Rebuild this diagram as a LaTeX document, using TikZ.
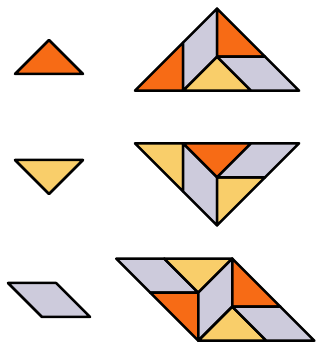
\documentclass[tikz,border=0pt]{standalone}
\usepackage{tikz}
\definecolor{tanOrange}{HTML}{F76B15}
\definecolor{tanYellow}{HTML}{F9CE6A}
\definecolor{tanLilac}{HTML}{CDCBDC}
\newcommand{\rt}{1.41421}

\begin{document}
\begin{tikzpicture}[x=1pt,y=1pt,
  piece/.style={draw=black,line width=2.5pt,line join=round},
  org/.style={piece,fill=tanOrange},
  yel/.style={piece,fill=tanYellow},
  lav/.style={piece,fill=tanLilac}]
\useasboundingbox (0,0) rectangle (320,344);
\begin{scope}[shift={(15,270)},scale=34]
\draw[org] (0,0) -- (2,0) -- (1,1) -- cycle;
\end{scope}
\begin{scope}[shift={(15,184)},scale=34]
\draw[yel] (0,0) -- (2,0) -- (1,-1) -- cycle;
\end{scope}
\begin{scope}[shift={(42,27)},scale=34]
\draw[lav] (0,0) -- (\rt,0) -- (\rt-1,1) -- (-1,1) -- cycle;
\end{scope}
\begin{scope}[shift={(135,253.3)},scale=34]
\draw[org] (0,0) -- (\rt,0) -- (\rt,\rt) -- cycle;
\draw[lav] (\rt,0) -- (\rt,\rt) -- (1+\rt,1+\rt) -- (1+\rt,1) -- cycle;
\draw[yel] (\rt,0) -- (2+\rt,0) -- (1+\rt,1) -- cycle;
\draw[org] (1+\rt,1+\rt) -- (1+\rt,1) -- (1+2*\rt,1) -- cycle;
\draw[lav] (1+\rt,1) -- (1+2*\rt,1) -- (2+2*\rt,0) -- (2+\rt,0) -- cycle;
\end{scope}
\begin{scope}[shift={(135,200.7)},scale=34,yscale=-1]
\draw[yel] (0,0) -- (\rt,0) -- (\rt,\rt) -- cycle;
\draw[lav] (\rt,0) -- (\rt,\rt) -- (1+\rt,1+\rt) -- (1+\rt,1) -- cycle;
\draw[org] (\rt,0) -- (2+\rt,0) -- (1+\rt,1) -- cycle;
\draw[yel] (1+\rt,1+\rt) -- (1+\rt,1) -- (1+2*\rt,1) -- cycle;
\draw[lav] (1+\rt,1) -- (1+2*\rt,1) -- (2+2*\rt,0) -- (2+\rt,0) -- cycle;
\end{scope}
\begin{scope}[shift={(198.3,3.3)},scale=34]
\draw[lav] (-1-\rt,1+\rt) -- (-1,1+\rt) -- (0,\rt) -- (-\rt,\rt) -- cycle;
\draw[yel] (-1,1+\rt) -- (1,1+\rt) -- (0,\rt) -- cycle;
\draw[org] (-\rt,\rt) -- (0,\rt) -- (0,0) -- cycle;
\draw[lav] (0,0) -- (0,\rt) -- (1,1+\rt) -- (1,1) -- cycle;
\draw[org] (1,1+\rt) -- (1,1) -- (1+\rt,1) -- cycle;
\draw[yel] (0,0) -- (2,0) -- (1,1) -- cycle;
\draw[lav] (1,1) -- (1+\rt,1) -- (2+\rt,0) -- (2,0) -- cycle;
\end{scope}
\end{tikzpicture}
\end{document}
